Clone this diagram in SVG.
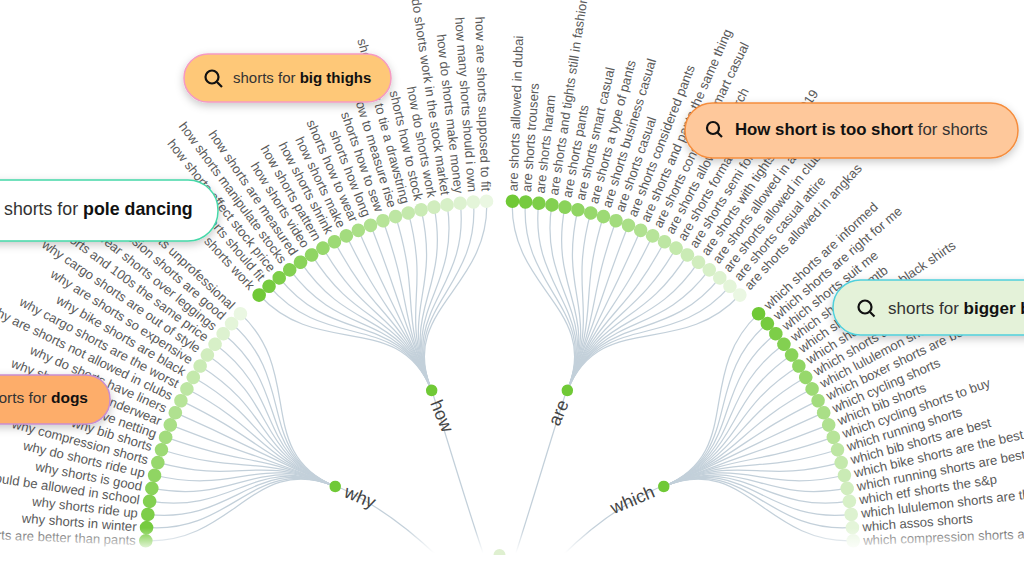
<svg xmlns="http://www.w3.org/2000/svg" width="1024" height="586" viewBox="0 0 1024 586">
<style>
text{font-family:"Liberation Sans",Arial,sans-serif}
.L text,.R text{font-size:13.1px;fill:#5a5a5a}
.L text{text-anchor:end}
.link{fill:none;stroke:#c3d0da;stroke-width:1.25}
.b circle{fill:#70c936}
.b text{font-size:18px;fill:#444}
.pill text{fill:#333}
.pill tspan{font-weight:bold;fill:#111}
.ico{fill:none;stroke:#111;stroke-width:2.2}
.c0 circle{fill:#70c936}.c1 circle{fill:#76cb3f}.c2 circle{fill:#7dce48}.c3 circle{fill:#83d051}.c4 circle{fill:#8ad35a}.c5 circle{fill:#90d563}.c6 circle{fill:#97d86c}.c7 circle{fill:#9dda75}.c8 circle{fill:#a3dc7e}.c9 circle{fill:#aadf87}.c10 circle{fill:#b0e190}.c11 circle{fill:#b7e499}.c12 circle{fill:#bde6a3}.c13 circle{fill:#c4e9ac}.c14 circle{fill:#caebb5}.c15 circle{fill:#d1edbe}.c16 circle{fill:#d7f0c7}.c17 circle{fill:#ddf2d0}.c18 circle{fill:#e4f5d9}.c19 circle{fill:#eaf7e2}
</style>
<defs>
<linearGradient id="fade" x1="0" y1="528" x2="0" y2="553" gradientUnits="userSpaceOnUse"><stop offset="0" stop-color="#fff" stop-opacity="0"/><stop offset="1" stop-color="#fff"/></linearGradient>
<filter id="sh" x="-10%" y="-30%" width="120%" height="170%"><feDropShadow dx="0" dy="3" stdDeviation="4" flood-color="#000" flood-opacity=".22"/></filter>
<g id="fan" class="link">
<path d="M178,0C266,0 249.44,-92.41 331.96,-122.98"/>
<path d="M178,0C266,0 252.71,-83.04 336.31,-110.51"/>
<path d="M178,0C266,0 255.63,-73.54 340.2,-97.87"/>
<path d="M178,0C266,0 258.2,-63.94 343.62,-85.1"/>
<path d="M178,0C266,0 260.41,-54.25 346.56,-72.2"/>
<path d="M178,0C266,0 262.25,-44.49 349.01,-59.21"/>
<path d="M178,0C266,0 263.73,-34.67 350.98,-46.14"/>
<path d="M178,0C266,0 264.84,-24.8 352.46,-33.01"/>
<path d="M178,0C266,0 265.58,-14.9 353.44,-19.82"/>
<path d="M178,0C266,0 265.95,-4.97 353.94,-6.61"/>
<path d="M178,0C266,0 265.95,4.97 353.94,6.61"/>
<path d="M178,0C266,0 265.58,14.9 353.44,19.82"/>
<path d="M178,0C266,0 264.84,24.8 352.46,33.01"/>
<path d="M178,0C266,0 263.73,34.67 350.98,46.14"/>
<path d="M178,0C266,0 262.25,44.49 349.01,59.21"/>
<path d="M178,0C266,0 260.41,54.25 346.56,72.2"/>
<path d="M178,0C266,0 258.2,63.94 343.62,85.1"/>
<path d="M178,0C266,0 255.63,73.54 340.2,97.87"/>
<path d="M178,0C266,0 252.71,83.04 336.31,110.51"/>
<path d="M178,0C266,0 249.44,92.41 331.96,122.98"/>
</g>
</defs>
<rect width="1024" height="586" fill="#fff"/>
<g id="connectors">
<g class="link">
<path d="M335.7,485.7C375,503 410,530 437,556"/>
<path d="M431.7,390C445,432 465,500 484,556"/>
<path d="M566.7,390C553,432 533,500 515,556"/>
<path d="M662.7,485.7C623,503 588,530 562,556"/>
</g>
<g transform="translate(499.5 555)">
<use href="#fan" transform="rotate(202.65)"/>
<use href="#fan" transform="rotate(247.6)"/>
<use href="#fan" transform="rotate(292.4)"/>
<use href="#fan" transform="rotate(337.35)"/>
</g>
</g>
<g transform="translate(499.5 555)">
<g id="why" class="b" transform="rotate(22.65)"><circle cx="-178" r="5.8"/><text x="-167" dy=".35em">why</text></g>
<g id="how" class="b" transform="rotate(67.6)"><circle cx="-178" r="5.8"/><text x="-167" dy=".35em">how</text></g>
<g id="are" class="b" transform="rotate(-67.6)"><circle cx="178" r="5.8"/><text x="167" dy=".35em" text-anchor="end">are</text></g>
<g id="which" class="b" transform="rotate(-22.65)"><circle cx="178" r="5.8"/><text x="167" dy=".35em" text-anchor="end">which</text></g>
<g class="L">
<g id="why-0" class="c0" transform="rotate(2.3)"><circle cx="-354" r="6.8"/><text x="-364" dy=".35em">why shorts are better than pants</text></g>
<g id="why-1" class="c1" transform="rotate(4.44)"><circle cx="-354" r="6.8"/><text x="-364" dy=".35em">why shorts in winter</text></g>
<g id="why-2" class="c2" transform="rotate(6.58)"><circle cx="-354" r="6.8"/><text x="-364" dy=".35em">why shorts ride up</text></g>
<g id="why-3" class="c3" transform="rotate(8.72)"><circle cx="-354" r="6.8"/><text x="-364" dy=".35em">why shorts should be allowed in school</text></g>
<g id="why-4" class="c4" transform="rotate(10.86)"><circle cx="-354" r="6.8"/><text x="-364" dy=".35em">why shorts is good</text></g>
<g id="why-5" class="c5" transform="rotate(13)"><circle cx="-354" r="6.8"/><text x="-364" dy=".35em">why do shorts ride up</text></g>
<g id="why-6" class="c6" transform="rotate(15.14)"><circle cx="-354" r="6.8"/><text x="-364" dy=".35em">why compression shorts</text></g>
<g id="why-7" class="c7" transform="rotate(17.28)"><circle cx="-354" r="6.8"/><text x="-364" dy=".35em">why bib shorts</text></g>
<g id="why-8" class="c8" transform="rotate(19.42)"><circle cx="-354" r="6.8"/><text x="-364" dy=".35em">why shorts have netting</text></g>
<g id="why-9" class="c9" transform="rotate(21.56)"><circle cx="-354" r="6.8"/><text x="-364" dy=".35em">why shorts have underwear</text></g>
<g id="why-10" class="c10" transform="rotate(23.7)"><circle cx="-354" r="6.8"/><text x="-364" dy=".35em">why do shorts have liners</text></g>
<g id="why-11" class="c11" transform="rotate(25.84)"><circle cx="-354" r="6.8"/><text x="-364" dy=".35em">why are shorts not allowed in clubs</text></g>
<g id="why-12" class="c12" transform="rotate(27.98)"><circle cx="-354" r="6.8"/><text x="-364" dy=".35em">why cargo shorts are the worst</text></g>
<g id="why-13" class="c13" transform="rotate(30.12)"><circle cx="-354" r="6.8"/><text x="-364" dy=".35em">why bike shorts are black</text></g>
<g id="why-14" class="c14" transform="rotate(32.26)"><circle cx="-354" r="6.8"/><text x="-364" dy=".35em">why are shorts so expensive</text></g>
<g id="why-15" class="c15" transform="rotate(34.4)"><circle cx="-354" r="6.8"/><text x="-364" dy=".35em">why cargo shorts are out of style</text></g>
<g id="why-16" class="c16" transform="rotate(36.54)"><circle cx="-354" r="6.8"/><text x="-364" dy=".35em">why 90s shorts and 100s the same price</text></g>
<g id="why-17" class="c17" transform="rotate(38.68)"><circle cx="-354" r="6.8"/><text x="-364" dy=".35em">why wear shorts over leggings</text></g>
<g id="why-18" class="c18" transform="rotate(40.82)"><circle cx="-354" r="6.8"/><text x="-364" dy=".35em">why compression shorts are good</text></g>
<g id="why-19" class="c19" transform="rotate(42.96)"><circle cx="-354" r="6.8"/><text x="-364" dy=".35em">why are shorts unprofessional</text></g>
<g id="how-0" class="c0" transform="rotate(47.24)"><circle cx="-354" r="6.8"/><text x="-364" dy=".35em">how shorts work</text></g>
<g id="how-1" class="c1" transform="rotate(49.38)"><circle cx="-354" r="6.8"/><text x="-364" dy=".35em">how shorts should fit</text></g>
<g id="how-2" class="c2" transform="rotate(51.52)"><circle cx="-354" r="6.8"/><text x="-364" dy=".35em">how shorts affect stock price</text></g>
<g id="how-3" class="c3" transform="rotate(53.66)"><circle cx="-354" r="6.8"/><text x="-364" dy=".35em">how shorts manipulate stocks</text></g>
<g id="how-4" class="c4" transform="rotate(55.8)"><circle cx="-354" r="6.8"/><text x="-364" dy=".35em">how shorts are measured</text></g>
<g id="how-5" class="c5" transform="rotate(57.94)"><circle cx="-354" r="6.8"/><text x="-364" dy=".35em">how shorts video</text></g>
<g id="how-6" class="c6" transform="rotate(60.08)"><circle cx="-354" r="6.8"/><text x="-364" dy=".35em">how shorts pattern</text></g>
<g id="how-7" class="c7" transform="rotate(62.22)"><circle cx="-354" r="6.8"/><text x="-364" dy=".35em">how shorts shrink</text></g>
<g id="how-8" class="c8" transform="rotate(64.36)"><circle cx="-354" r="6.8"/><text x="-364" dy=".35em">how shorts make</text></g>
<g id="how-9" class="c9" transform="rotate(66.5)"><circle cx="-354" r="6.8"/><text x="-364" dy=".35em">shorts how to wear</text></g>
<g id="how-10" class="c10" transform="rotate(68.64)"><circle cx="-354" r="6.8"/><text x="-364" dy=".35em">shorts how long</text></g>
<g id="how-11" class="c11" transform="rotate(70.78)"><circle cx="-354" r="6.8"/><text x="-364" dy=".35em">shorts how to sew</text></g>
<g id="how-12" class="c12" transform="rotate(72.92)"><circle cx="-354" r="6.8"/><text x="-364" dy=".35em">shorts how to measure rise</text></g>
<g id="how-13" class="c13" transform="rotate(75.06)"><circle cx="-354" r="6.8"/><text x="-364" dy=".35em">shorts how to tie a drawstring</text></g>
<g id="how-14" class="c14" transform="rotate(77.2)"><circle cx="-354" r="6.8"/><text x="-364" dy=".35em">shorts how to stock</text></g>
<g id="how-15" class="c15" transform="rotate(79.34)"><circle cx="-354" r="6.8"/><text x="-364" dy=".35em">how do shorts work</text></g>
<g id="how-16" class="c16" transform="rotate(81.48)"><circle cx="-354" r="6.8"/><text x="-364" dy=".35em">how do shorts work in the stock market</text></g>
<g id="how-17" class="c17" transform="rotate(83.62)"><circle cx="-354" r="6.8"/><text x="-364" dy=".35em">how do shorts make money</text></g>
<g id="how-18" class="c18" transform="rotate(85.76)"><circle cx="-354" r="6.8"/><text x="-364" dy=".35em">how many shorts should i own</text></g>
<g id="how-19" class="c19" transform="rotate(87.9)"><circle cx="-354" r="6.8"/><text x="-364" dy=".35em">how are shorts supposed to fit</text></g>
</g>
<g class="R">
<g id="are-0" class="c0" transform="rotate(-87.9)"><circle cx="354" r="6.8"/><text x="364" dy=".35em">are shorts allowed in dubai</text></g>
<g id="are-1" class="c1" transform="rotate(-85.76)"><circle cx="354" r="6.8"/><text x="364" dy=".35em">are shorts trousers</text></g>
<g id="are-2" class="c2" transform="rotate(-83.62)"><circle cx="354" r="6.8"/><text x="364" dy=".35em">are shorts haram</text></g>
<g id="are-3" class="c3" transform="rotate(-81.48)"><circle cx="354" r="6.8"/><text x="364" dy=".35em">are shorts and tights still in fashion</text></g>
<g id="are-4" class="c4" transform="rotate(-79.34)"><circle cx="354" r="6.8"/><text x="364" dy=".35em">are shorts pants</text></g>
<g id="are-5" class="c5" transform="rotate(-77.2)"><circle cx="354" r="6.8"/><text x="364" dy=".35em">are shorts smart casual</text></g>
<g id="are-6" class="c6" transform="rotate(-75.06)"><circle cx="354" r="6.8"/><text x="364" dy=".35em">are shorts a type of pants</text></g>
<g id="are-7" class="c7" transform="rotate(-72.92)"><circle cx="354" r="6.8"/><text x="364" dy=".35em">are shorts business casual</text></g>
<g id="are-8" class="c8" transform="rotate(-70.78)"><circle cx="354" r="6.8"/><text x="364" dy=".35em">are shorts casual</text></g>
<g id="are-9" class="c9" transform="rotate(-68.64)"><circle cx="354" r="6.8"/><text x="364" dy=".35em">are shorts considered pants</text></g>
<g id="are-10" class="c10" transform="rotate(-66.5)"><circle cx="354" r="6.8"/><text x="364" dy=".35em">are shorts and pants the same thing</text></g>
<g id="are-11" class="c11" transform="rotate(-64.36)"><circle cx="354" r="6.8"/><text x="364" dy=".35em">are shorts considered smart casual</text></g>
<g id="are-12" class="c12" transform="rotate(-62.22)"><circle cx="354" r="6.8"/><text x="364" dy=".35em">are shorts allowed in church</text></g>
<g id="are-13" class="c13" transform="rotate(-60.08)"><circle cx="354" r="6.8"/><text x="364" dy=".35em">are shorts formal</text></g>
<g id="are-14" class="c14" transform="rotate(-57.94)"><circle cx="354" r="6.8"/><text x="364" dy=".35em">are shorts semi formal</text></g>
<g id="are-15" class="c15" transform="rotate(-55.8)"><circle cx="354" r="6.8"/><text x="364" dy=".35em">are shorts with tights in style 2019</text></g>
<g id="are-16" class="c16" transform="rotate(-53.66)"><circle cx="354" r="6.8"/><text x="364" dy=".35em">are shorts allowed in a</text></g>
<g id="are-17" class="c17" transform="rotate(-51.52)"><circle cx="354" r="6.8"/><text x="364" dy=".35em">are shorts allowed in clubs</text></g>
<g id="are-18" class="c18" transform="rotate(-49.38)"><circle cx="354" r="6.8"/><text x="364" dy=".35em">are shorts casual attire</text></g>
<g id="are-19" class="c19" transform="rotate(-47.24)"><circle cx="354" r="6.8"/><text x="364" dy=".35em">are shorts allowed in angkas</text></g>
<g id="which-0" class="c0" transform="rotate(-42.96)"><circle cx="354" r="6.8"/><text x="364" dy=".35em">which shorts are informed</text></g>
<g id="which-1" class="c1" transform="rotate(-40.82)"><circle cx="354" r="6.8"/><text x="364" dy=".35em">which shorts are right for me</text></g>
<g id="which-2" class="c2" transform="rotate(-38.68)"><circle cx="354" r="6.8"/><text x="364" dy=".35em">which shorts suit me</text></g>
<g id="which-3" class="c3" transform="rotate(-36.54)"><circle cx="354" r="6.8"/><text x="364" dy=".35em">which shorts for mtb</text></g>
<g id="which-4" class="c4" transform="rotate(-34.4)"><circle cx="354" r="6.8"/><text x="364" dy=".35em">which shorts go with black shirts</text></g>
<g id="which-5" class="c5" transform="rotate(-32.26)"><circle cx="354" r="6.8"/><text x="364" dy=".35em">which shorts</text></g>
<g id="which-6" class="c6" transform="rotate(-30.12)"><circle cx="354" r="6.8"/><text x="364" dy=".35em">which shorts are</text></g>
<g id="which-7" class="c7" transform="rotate(-27.98)"><circle cx="354" r="6.8"/><text x="364" dy=".35em">which lululemon shorts</text></g>
<g id="which-8" class="c8" transform="rotate(-25.84)"><circle cx="354" r="6.8"/><text x="364" dy=".35em">which boxer shorts are best</text></g>
<g id="which-9" class="c9" transform="rotate(-23.7)"><circle cx="354" r="6.8"/><text x="364" dy=".35em">which cycling shorts</text></g>
<g id="which-10" class="c10" transform="rotate(-21.56)"><circle cx="354" r="6.8"/><text x="364" dy=".35em">which bib shorts</text></g>
<g id="which-11" class="c11" transform="rotate(-19.42)"><circle cx="354" r="6.8"/><text x="364" dy=".35em">which cycling shorts to buy</text></g>
<g id="which-12" class="c12" transform="rotate(-17.28)"><circle cx="354" r="6.8"/><text x="364" dy=".35em">which running shorts</text></g>
<g id="which-13" class="c13" transform="rotate(-15.14)"><circle cx="354" r="6.8"/><text x="364" dy=".35em">which bib shorts are best</text></g>
<g id="which-14" class="c14" transform="rotate(-13)"><circle cx="354" r="6.8"/><text x="364" dy=".35em">which bike shorts are the best</text></g>
<g id="which-15" class="c15" transform="rotate(-10.86)"><circle cx="354" r="6.8"/><text x="364" dy=".35em">which running shorts are best</text></g>
<g id="which-16" class="c16" transform="rotate(-8.72)"><circle cx="354" r="6.8"/><text x="364" dy=".35em">which etf shorts the s&amp;p</text></g>
<g id="which-17" class="c17" transform="rotate(-6.58)"><circle cx="354" r="6.8"/><text x="364" dy=".35em">which lululemon shorts are the best</text></g>
<g id="which-18" class="c18" transform="rotate(-4.44)"><circle cx="354" r="6.8"/><text x="364" dy=".35em">which assos shorts</text></g>
<g id="which-19" class="c19" transform="rotate(-2.3)"><circle cx="354" r="6.8"/><text x="364" dy=".35em">which compression shorts are the best</text></g>
</g>
</g>
<rect id="bottom-fade" x="0" y="528" width="1024" height="58" fill="url(#fade)"/>
<path id="root" d="M493.5,555A6,6 0 0 1 505.5,555Z" fill="#dff0d0"/>
<g id="pill-thighs" class="pill"><rect x="184" y="54" width="207" height="48" rx="24" fill="#fec878" stroke="#f59ac2" stroke-width="1.5" filter="url(#sh)"/><circle class="ico" cx="212" cy="77" r="6.5"/><path class="ico" d="M217,82L222,87"/><text x="233" y="83" font-size="15">shorts for <tspan>big thighs</tspan></text></g>
<g id="pill-pole" class="pill"><rect x="-60" y="180" width="278" height="61" rx="30" fill="#fff" stroke="#45d8a8" stroke-width="1.5" filter="url(#sh)"/><text x="4" y="215" font-size="17.8">shorts for <tspan>pole dancing</tspan></text></g>
<g id="pill-dogs" class="pill"><rect x="-60" y="375" width="170" height="49" rx="24" fill="#fdad6b" stroke="#c98dd0" stroke-width="1.5" filter="url(#sh)"/><text x="88" y="403" font-size="15.5" text-anchor="end">shorts for <tspan>dogs</tspan></text></g>
<g id="pill-how" class="pill"><rect x="685" y="103" width="333" height="55" rx="27.5" fill="#fec89b" stroke="#f58d3d" stroke-width="1.5" filter="url(#sh)"/><circle class="ico" cx="713" cy="128" r="6"/><path class="ico" d="M717.5,132.5L722,137"/><text x="735" y="135" font-size="16.8"><tspan>How short is too short</tspan> for shorts</text></g>
<g id="pill-bigger" class="pill"><rect x="833" y="280" width="260" height="55" rx="27.5" fill="#e4f2d9" stroke="#50d0dc" stroke-width="1.5" filter="url(#sh)"/><circle class="ico" cx="865" cy="307" r="6.5"/><path class="ico" d="M870,312L874.5,316.5"/><text x="888" y="314" font-size="17">shorts for <tspan>bigger b</tspan></text></g>
</svg>
